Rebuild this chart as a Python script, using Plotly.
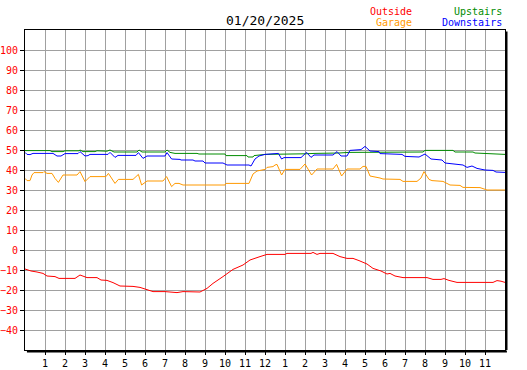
import plotly.graph_objects as go

# ---- data (hours after midnight, degrees) ----
outside_hours = [0, 0.3, 0.6, 0.9, 1.1, 1.5, 1.7, 2.5, 2.75, 3.1, 3.6, 3.8, 4.1, 4.4, 4.75, 5.4, 5.75,
                 6.1, 6.4, 7.0, 7.6, 7.9, 8.75, 9.1, 9.4, 9.9, 10.4, 10.9, 11.25, 11.75, 12.1, 13.0,
                 13.1, 14.3, 14.4, 14.6, 14.75, 15.4, 15.75, 16.1, 16.4, 16.7, 17.1, 17.4, 17.8, 18.1,
                 18.25, 18.5, 18.9, 20.1, 20.4, 20.8, 20.95, 21.2, 21.6, 23.4, 23.6, 23.8, 24]
outside_temps = [-9.5, -10.5, -11, -11.7, -13, -13.3, -14.2, -14.2, -12.5, -13.8, -13.8, -15, -15.2, -16.3,
                 -18, -18.2, -18.7, -20, -20.8, -20.8, -21.3, -20.8, -21, -19.2, -16.7, -13.3, -9.7, -7.5,
                 -5, -3.3, -2.2, -2.2, -1.7, -1.7, -1.2, -2.2, -1.7, -1.7, -3.3, -4.2, -4.2, -5.3, -7,
                 -9.2, -10.5, -12, -11.7, -13, -13.8, -13.8, -14.7, -14.7, -14.3, -15.2, -16.2, -16.2,
                 -15.3, -15.6, -16.2]

garage_hours = [0, 0.1, 0.25, 0.35, 0.45, 0.9, 0.95, 1.1, 1.35, 1.5, 1.67, 1.75, 1.9, 2.6, 2.75, 3.0,
                3.25, 4.05, 4.17, 4.5, 4.67, 5.4, 5.67, 5.83, 6.1, 6.9, 7.08, 7.33, 7.5, 7.7, 7.9, 10.0,
                10.05, 11.2, 11.4, 11.6, 12.0, 12.1, 12.4, 12.5, 12.6, 12.83, 13.0, 13.75, 14.0, 14.33,
                14.6, 15.4, 15.58, 15.83, 16.1, 16.75, 16.9, 17.05, 17.25, 17.75, 17.9, 18.75, 18.9,
                19.6, 19.8, 19.95, 20.2, 20.35, 20.9, 21.25, 21.75, 21.9, 22.75, 23.1, 24]
garage_temps = [35.8, 34.7, 34.7, 37.5, 38.7, 38.7, 39.2, 38.3, 38.3, 35.8, 33.8, 35, 37.5, 37.5, 39.2,
                34.2, 36.7, 36.7, 38.3, 33.3, 35.3, 35.3, 37.8, 32.5, 34.5, 34.5, 36.7, 31.7, 33.3, 33.3,
                32.5, 32.5, 33.3, 33.3, 38, 39.5, 40.3, 41.3, 41.7, 42.5, 42.8, 37.5, 40.3, 40.3, 43,
                37.5, 40.5, 40.5, 42.8, 37, 40.5, 40.5, 41.8, 41.8, 37, 36, 35.5, 35.3, 34.3, 34.3, 36,
                39.2, 35.3, 34.7, 34.3, 32.5, 32.3, 31.3, 31.2, 30, 30]

upstairs_hours = [0, 1.25, 1.35, 1.9, 2.0, 2.7, 2.75, 2.9, 3.5, 3.6, 4.1, 4.25, 4.45, 5.6, 5.7, 5.85,
                  7.0, 7.1, 7.25, 7.5, 8.6, 8.7, 10.0, 10.05, 11.1, 11.15, 11.4, 11.45, 12.0, 13.8, 14.0,
                  14.5, 15.6, 15.7, 16.2, 17.3, 17.4, 19.9, 20.0, 21.4, 21.5, 22.4, 22.5, 23.3, 23.4, 24]
upstairs_temps = [49.7, 49.7, 49.2, 49.2, 49.6, 49.6, 50, 49.2, 49.2, 49.6, 49.4, 50, 49, 49, 50, 49,
                  49, 50, 48.8, 48.3, 48.3, 48, 48, 47.2, 47.2, 46.5, 46.5, 47.2, 47.8, 47.8, 48.1,
                  48.3, 48.3, 48.5, 48.8, 48.8, 49, 49, 49.8, 49.8, 49, 49, 48.5, 48.3, 48, 47.8]

downstairs_hours = [0, 0.1, 0.25, 0.4, 1.4, 1.6, 1.8, 2.0, 2.65, 2.75, 3.0, 3.15, 3.25, 4.15, 4.25, 4.5,
                    4.65, 5.55, 5.67, 5.9, 6.1, 7.0, 7.1, 7.33, 7.75, 7.8, 8.4, 8.5, 8.9, 9.0, 9.9, 10.1,
                    11.2, 11.3, 11.5, 11.7, 12.0, 12.67, 12.83, 12.95, 13.8, 14.08, 14.3, 14.45, 15.4,
                    15.6, 15.8, 16.1, 16.25, 16.8, 17.0, 17.25, 17.7, 17.75, 18.85, 19.0, 19.7, 20.0,
                    20.3, 20.85, 21.0, 21.9, 22.1, 22.35, 22.6, 23.0, 23.4, 23.55, 24]
downstairs_temps = [48.8, 47.8, 47.7, 48.3, 48.3, 47, 47, 48.2, 48.2, 49.2, 47, 47.2, 47.8, 47.8, 48.8,
                    46.3, 47.3, 47.3, 48.7, 45.8, 47, 47, 48.7, 45.5, 45.3, 45, 45, 44.5, 44.5, 43.5,
                    43.5, 42.5, 42.5, 42, 45.5, 47, 47.8, 48.3, 45.5, 46.2, 46.2, 48.8, 46.3, 47.5, 47.5,
                    49.2, 47, 47, 49.8, 50.2, 51.8, 49.5, 49.2, 48.2, 47.8, 46.8, 46.5, 48, 45.5, 45,
                    43.5, 42.5, 41.3, 42, 40.8, 40, 39.8, 39, 38.8]

x_tick_hours = list(range(1, 24))
x_tick_labels = ["1", "2", "3", "4", "5", "6", "7", "8", "9", "10", "11", "12",
                 "1", "2", "3", "4", "5", "6", "7", "8", "9", "10", "11"]
y_tick_values = list(range(-40, 101, 10))
title_text = "01/20/2025"

FONT = "DejaVu Sans Mono"

fig = go.Figure()
series = [
    ("Outside", outside_hours, outside_temps, "#ff0000"),
    ("Garage", garage_hours, garage_temps, "#ff9900"),
    ("Upstairs", upstairs_hours, upstairs_temps, "#008c00"),
    ("Downstairs", downstairs_hours, downstairs_temps, "#0000ff"),
]
for name, xs, ys, col in [series[2], series[1], series[3], series[0]]:
    fig.add_trace(go.Scatter(x=xs, y=ys, mode="lines", name=name,
                             line=dict(color=col, width=1), hoverinfo="skip"))

fig.update_layout(
    width=527, height=370,
    margin=dict(l=25, r=22, t=30, b=20, pad=0, autoexpand=False),
    paper_bgcolor="white", plot_bgcolor="white",
    showlegend=False,
    font=dict(family=FONT, size=10, color="black"),
)
fig.update_xaxes(range=[0, 24], tickvals=x_tick_hours, ticktext=x_tick_labels,
                 showgrid=True, gridcolor="#a0a0a0", gridwidth=1,
                 showline=True, linecolor="black", linewidth=1, mirror=True,
                 ticks="outside", ticklen=4, tickcolor="black", automargin=False,
                 tickfont=dict(family=FONT, size=10, color="black"),
                 zeroline=False, fixedrange=True)
fig.update_yaxes(range=[-50, 110], tickvals=y_tick_values,
                 showgrid=True, gridcolor="#a0a0a0", gridwidth=1,
                 showline=True, linecolor="black", linewidth=1, mirror=True,
                 ticks="outside", ticklen=4, tickcolor="black", automargin=False,
                 tickfont=dict(family=FONT, size=10, color="#ff0000"),
                 ticklabelstandoff=0,
                 zeroline=False, fixedrange=True)

fig.update_xaxes(minor=dict(dtick=1, showgrid=True, gridcolor="#a0a0a0", gridwidth=1))
fig.update_yaxes(minor=dict(dtick=10, showgrid=True, gridcolor="#a0a0a0", gridwidth=1))

# shadow on right and bottom
fig.add_shape(type="line", xref="paper", yref="paper", xsizemode="pixel", xanchor=1,
              x0=1.5, x1=1.5, y0=0, y1=0.995, line=dict(color="black", width=2))
fig.add_shape(type="line", xref="paper", yref="paper", ysizemode="pixel", yanchor=0,
              y0=-1.5, y1=-1.5, x0=0.004, x1=1.004, line=dict(color="black", width=2))

fig.add_annotation(text=title_text, xref="paper", yref="paper", x=0.5, y=1, yshift=10,
                   xanchor="center", yanchor="middle", showarrow=False,
                   font=dict(family=FONT, size=13, color="black"))
legend_pos = [("Outside", "#ff0000", 414, 11), ("Garage", "#ff9900", 414, 23),
              ("Upstairs", "#008c00", 504, 11), ("Downstairs", "#0000ff", 504, 23)]
for txt, col, px, py in legend_pos:
    fig.add_annotation(text=txt, xref="paper", yref="paper",
                       x=(px - 25) / 480, y=1 + (30 - py) / 320,
                       xanchor="right", yanchor="middle", showarrow=False,
                       font=dict(family=FONT, size=10, color=col))

fig.write_html("out.html", config={"displayModeBar": False, "staticPlot": True},
               post_script="document.body.style.margin='0';document.body.style.overflow='hidden';")
